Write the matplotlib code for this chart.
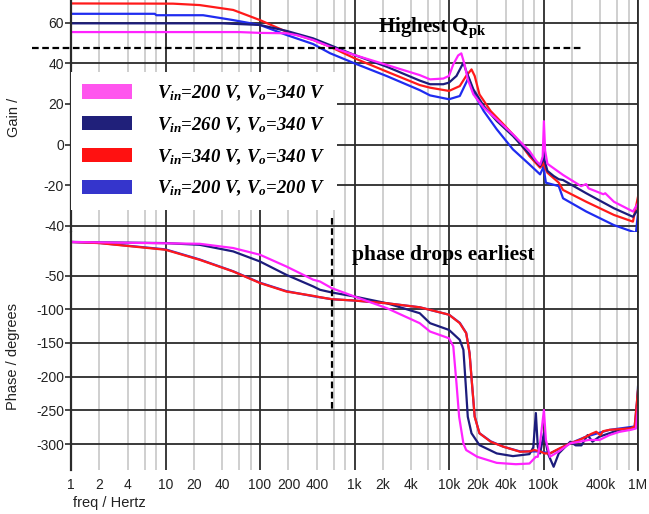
import matplotlib
matplotlib.use("Agg")
import matplotlib.pyplot as plt
from matplotlib.patches import Patch

plt.rcParams['font.family'] = ['Liberation Sans', 'DejaVu Sans']
plt.rcParams['axes.unicode_minus'] = False
plt.rcParams['mathtext.fontset'] = 'custom'
plt.rcParams['mathtext.it'] = 'Liberation Serif:italic:bold'
plt.rcParams['mathtext.rm'] = 'Liberation Serif:bold'
plt.rcParams['mathtext.bf'] = 'Liberation Serif:bold'

# ---- measured gain (dB) ----
gain_f_mag = [1, 10, 60, 100, 190, 250, 365, 550, 1000, 2200, 4900, 6300, 8700, 10000,
              11100, 12500, 13500, 14600, 15800, 18100, 23300, 32000, 47500, 71000, 84000,
              92000, 98000, 101000, 104000, 110000, 161000, 250000, 283000, 300000,
              430000, 450000, 556000, 884000, 1000000]
gain_mag = [55.4, 55.4, 55.4, 55.0, 54.8, 53.8, 51.5, 48.2, 44.1, 39.2, 34.2, 32.1, 32.5, 33.8,
            39.5, 43.9, 44.9, 39.5, 32.1, 24.7, 18.2, 12.4, 5.0, -3.2, -8.1,
            -10.0, -6.0, 11.5, -3.0, -9.5, -15.0, -20.5, -19.5, -21.6,
            -24.5, -24.0, -28.2, -33.0, -29.0]

gain_f_navy = [1, 40, 100, 190, 365, 550, 1000, 2200, 4900, 6300, 8700, 10000, 12000, 14200,
               15200, 18100, 23300, 32000, 47500, 71000, 92000, 98000, 100000, 103000, 110000,
               128000, 145000, 161000, 283000, 556000, 884000, 1000000]
gain_navy = [59.7, 59.7, 58.9, 56.0, 52.3, 49.0, 44.1, 38.3, 31.5, 29.7, 29.7, 30.5, 33.8, 40.3,
             36.2, 27.2, 19.0, 11.6, 4.2, -4.8, -10.6, -8.0, -4.0, -8.0, -13.0,
             -15.5, -17.1, -17.5, -24.0, -31.4, -35.6, -32.0]

gain_f_red = [1, 12, 23, 52, 100, 190, 365, 550, 1000, 2200, 4900, 6300, 10000, 13000, 15200,
              17300, 18700, 21000, 27600, 37600, 51000, 71000, 92000, 98000, 100000, 103000,
              110000, 145000, 161000, 283000, 556000, 884000, 1000000]
gain_red = [69.5, 69.4, 68.7, 66.3, 61.3, 55.6, 51.5, 48.2, 42.5, 35.9, 29.3, 28.0, 26.4, 28.8, 33.8,
            37.0, 33.8, 24.7, 16.5, 10.0, 3.4, -5.7, -11.4, -10.0, -7.3, -11.0,
            -13.9, -18.8, -22.4, -28.2, -34.7, -38.0, -25.7]

gain_f_blue = [1, 7.7, 8, 25, 52, 100, 190, 365, 550, 1000, 2200, 4900, 6300, 10000, 13000, 15200,
               16100, 18100, 23300, 32000, 47500, 71000, 92000, 98000, 100000, 103000, 106000,
               145000, 161000, 283000, 556000, 884000, 950000, 1000000]
gain_blue = [64.4, 64.4, 63.7, 63.7, 61.3, 58.9, 54.0, 49.5, 45.0, 40.0, 33.7, 26.8, 24.2, 22.3, 23.9, 30.5,
             33.0, 25.6, 16.5, 7.5, -2.4, -9.8, -14.7, -12.0, -8.9, -15.0, -18.8,
             -20.5, -26.5, -33.0, -39.7, -43.0, -43.5, -34.0]

# ---- measured phase (degrees) ----
phase_f_mag = [1, 23, 52, 100, 190, 365, 431, 575, 1000, 2200, 4900, 6300, 10000, 11100, 12000,
               12800, 14200, 15200, 19900, 32000, 51000, 71000, 83000, 87000, 92000, 101000,
               106000, 117000, 145000, 192000, 240000, 300000, 391000, 500000, 634000, 835000,
               950000, 1000000]
phase_mag = [0, -2.7, -9, -19, -36.4, -56, -58.7, -68.6, -81, -98.3, -120.6, -133, -143, -155, -210,
             -259.5, -299, -309, -319, -328, -330, -329, -319, -319, -299, -249.5,
             -294, -319, -311, -299, -296.6, -294, -294, -286.7, -282, -279,
             -277, -245]

phase_f_navy = [1, 10, 23, 52, 100, 190, 365, 431, 575, 1000, 2200, 4900, 6300, 10000, 13000,
                14200, 15000, 15800, 17300, 21000, 32000, 47500, 71000, 78000, 83000, 87000,
                92000, 101000, 112000, 128000, 145000, 192000, 219000, 252000, 293000, 330000,
                391000, 500000, 634000, 835000, 950000, 1000000]
phase_navy = [0, -1.7, -4.2, -14, -29, -48.8, -66, -71, -75, -81, -91, -105.8, -120.6, -130.6, -145.4,
              -160, -210, -259.5, -284, -301.6, -314, -318, -315, -305, -254, -304,
              -314, -284, -315, -333.8, -314, -296.6, -302, -302, -286.7, -296.6,
              -289, -284, -279, -276, -275, -215]

phase_f_red = [1, 2, 10, 23, 52, 100, 190, 365, 431, 575, 1000, 2200, 4900, 6300, 10000, 13000,
               15200, 16500, 17500, 18700, 21000, 27600, 37600, 56500, 71000, 80000, 92000,
               103000, 117000, 148000, 192000, 240000, 283000, 320000, 362000, 400000, 426000,
               500000, 634000, 835000, 922000, 1000000]
phase_red = [0, -1.7, -11.6, -26.5, -43.8, -61, -73.6, -80, -82, -85, -87, -91, -97, -100.8, -108, -120.6,
             -135.5, -165, -210, -259.5, -284, -296.6, -304, -311.5, -311, -309, -311,
             -314, -314, -306.5, -299, -294, -289, -285, -281.8, -287, -281,
             -279, -278, -276.8, -274, -220]

phase_f_blue = [1, 2, 10, 23, 52, 100, 190, 365, 575, 1000, 2200, 4900, 10000, 13000, 15200, 16500,
                17500, 18700, 21000, 27600, 37600, 56500, 92000, 117000, 192000, 283000, 500000,
                922000, 1000000]
phase_blue = [0, -1.5, -11.0, -26.0, -43.5, -60.5, -73.0, -80.5, -85, -87, -91, -97, -108, -120,
              -135, -165, -210, -259, -284, -296, -304, -311, -311, -314, -299, -289, -279,
              -274, -222]

series_colors = ['#ff22ff', '#1c1c7c', '#ff1a1a', '#1f2cf0']
legend_colors = ['#ff55ee', '#20207a', '#ff1111', '#3535cc']
legend_labels = [r'$V_{in}$=200 V, $V_o$=340 V',
                 r'$V_{in}$=260 V, $V_o$=340 V',
                 r'$V_{in}$=340 V, $V_o$=340 V',
                 r'$V_{in}$=200 V, $V_o$=200 V']

tick_freqs = [1, 10, 100, 1e3, 1e4, 1e5, 1e6]
tick_names = ['1', '10', '100', '1k', '10k', '100k', '1M']
minor_freqs = [m * d for d in [1, 10, 100, 1e3, 1e4, 1e5] for m in (2, 4, 6, 8)]
minor_names = {2: '2', 20: '20', 200: '200', 2e3: '2k', 2e4: '20k',
               4: '4', 40: '40', 400: '400', 4e3: '4k', 4e4: '40k', 4e5: '400k'}

QPK_LEVEL = 47.5
DROP_FREQ = 575

W, H = 649, 514
fig = plt.figure(figsize=(W / 100, H / 100), dpi=100)
ax_g = fig.add_axes([71 / W, 1 - 232 / H, 567 / W, 232 / H])
ax_p = fig.add_axes([71 / W, 1 - 470 / H, 567 / W, 238 / H])

dark = '#2b2b2b'
light = '#cccccc'

for ax in (ax_g, ax_p):
    ax.set_xscale('log')
    ax.set_xlim(1, 1e6)
    ax.set_xticks(tick_freqs)
    ax.set_xticks(minor_freqs, minor=True)
    ax.grid(which='major', color=dark, lw=1.3)
    ax.grid(which='minor', axis='x', color=light, lw=1.3)
    ax.set_axisbelow(True)
    for side in ('top', 'bottom'):
        ax.spines[side].set_visible(False)
    ax.spines['left'].set_color(dark)
    ax.spines['left'].set_linewidth(1.6)
    ax.spines['right'].set_color(dark)
    ax.spines['right'].set_linewidth(1.3)
    ax.tick_params(axis='y', length=4, width=1.2, color=dark, pad=1,
                   labelsize=10, labelcolor='#222222')
    ax.tick_params(axis='x', which='both', length=0, pad=6,
                   labelsize=10, labelcolor='#222222')

ax_g.set_xticklabels([])
ax_g.set_xticklabels([], minor=True)
ax_p.set_xticklabels(tick_names)
ax_p.set_xticklabels([minor_names.get(f, '') for f in minor_freqs], minor=True)

# gain panel
ax_g.set_ylim(-43.1, 71.2)
ax_g.set_yticks([-40, -20, 0, 20, 40, 60])
ax_g.plot(gain_f_blue, gain_blue, color=series_colors[3], lw=1.6)
ax_g.plot(gain_f_red, gain_red, color=series_colors[2], lw=1.6)
ax_g.plot(gain_f_navy, gain_navy, color=series_colors[1], lw=1.6)
ax_g.plot(gain_f_mag, gain_mag, color=series_colors[0], lw=1.6)
ax_g.plot([0.39, 2.6e5], [QPK_LEVEL, QPK_LEVEL], color='black', lw=1.6,
          ls=(0, (3, 1.6)), clip_on=False, zorder=5)
ax_g.text(6.6e3, 57.5, r'Highest $\mathrm{Q}_{\mathrm{pk}}$', ha='center', va='center',
          fontsize=15, family='Liberation Serif', weight='bold')

handles = [Patch(facecolor=c, edgecolor='none') for c in legend_colors]
leg = ax_g.legend(handles, legend_labels, loc='upper left', bbox_to_anchor=(0.0, 0.69),
                  borderaxespad=0, borderpad=0.6, frameon=True, fancybox=False,
                  framealpha=1, edgecolor='none', facecolor='white',
                  handlelength=2.67, handleheight=0.8, handletextpad=1.33,
                  labelspacing=0.66,
                  prop={'family': 'Liberation Serif', 'style': 'italic',
                        'weight': 'bold', 'size': 13.5})

# phase panel
ax_p.set_ylim(-338.6, 14.8)
ax_p.set_yticks([-300, -250, -200, -150, -100, -50])
ax_p.plot(phase_f_blue, phase_blue, color=series_colors[3], lw=1.6)
ax_p.plot(phase_f_navy, phase_navy, color=series_colors[1], lw=1.6)
ax_p.plot(phase_f_red, phase_red, color=series_colors[2], lw=1.6)
ax_p.plot(phase_f_mag, phase_mag, color=series_colors[0], lw=1.6)
ax_p.plot([DROP_FREQ, DROP_FREQ], [35.6, -250], color='black', lw=1.6,
          ls=(0, (3, 1.6)), clip_on=False, zorder=5)
ax_p.text(942, -19, 'phase drops earliest', ha='left', va='center',
          fontsize=15.5, family='Liberation Serif', weight='bold')

fig.text(14 / W, 1 - 117 / H, 'Gain /', rotation=90, ha='center', va='center',
         fontsize=10.5, color='#222222')
fig.text(13 / W, 1 - 356 / H, 'Phase / degrees', rotation=90, ha='center', va='center',
         fontsize=10.5, color='#222222')
fig.text(73 / W, 1 - 503 / H, 'freq / Hertz', ha='left', va='center',
         fontsize=10.5, color='#222222')

fig.savefig('out.png', dpi=100)
